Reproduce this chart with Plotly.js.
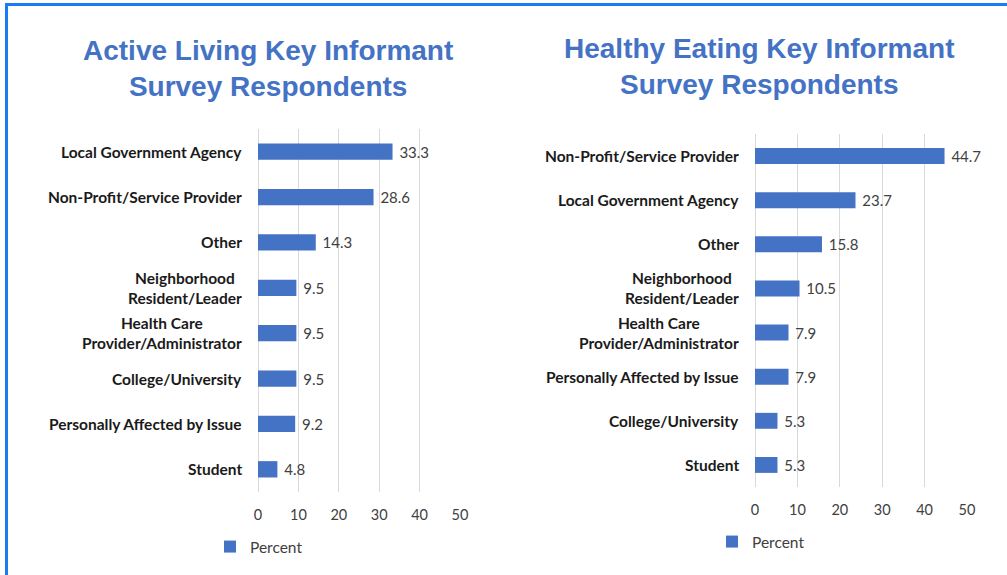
<!DOCTYPE html>
<html>
<head>
<meta charset="utf-8">
<script src="https://cdn.plot.ly/plotly-3.0.1.min.js"></script>
<style>
html,body{margin:0;padding:0;background:#fff;}
#chart{width:1007px;height:575px;}
</style>
</head>
<body>
<div id="chart"></div>
<script>
// ---- data ----
const activeCategories = ["Local Government Agency", "Non-Profit/Service Provider", "Other", "Neighborhood<br>Resident/Leader", "Health Care<br>Provider/Administrator", "College/University", "Personally Affected by Issue", "Student"];
const activeValues = [33.3, 28.6, 14.3, 9.5, 9.5, 9.5, 9.2, 4.8];
const eatingCategories = ["Non-Profit/Service Provider", "Local Government Agency", "Other", "Neighborhood<br>Resident/Leader", "Health Care<br>Provider/Administrator", "Personally Affected by Issue", "College/University", "Student"];
const eatingValues = [44.7, 23.7, 15.8, 10.5, 7.9, 7.9, 5.3, 5.3];
const tickValues = [0, 10, 20, 30, 40, 50];
const seriesName = "Percent";
const titleLeft = "Active Living Key Informant<br>Survey Respondents";
const titleRight = "Healthy Eating Key Informant<br>Survey Respondents";

// ---- layout helpers (pixel -> paper, margins are zero) ----
const W = 1007, H = 575;
const px = x => x / W;
const py = y => 1 - y / H;

const barColor = "#4472C4";
const FAM = "Lato, 'Open Sans', sans-serif";
const labelFont = {family: FAM, size: 15, color: "#404040"};

const traces = [
  {
    type: "bar", orientation: "h", name: seriesName,
    x: activeValues, y: activeCategories.map((c, i) => "a" + i),
    xaxis: "x", yaxis: "y",
    marker: {color: barColor, line: {width: 0}},
    text: activeValues.map(v => "\u00a0" + v.toFixed(1)), textposition: "outside",
    textfont: labelFont, cliponaxis: false, constraintext: "none",
    showlegend: true, legend: "legend", hoverinfo: "x"
  },
  {
    type: "bar", orientation: "h", name: seriesName,
    x: eatingValues, y: eatingCategories.map((c, i) => "b" + i),
    xaxis: "x2", yaxis: "y2",
    marker: {color: barColor, line: {width: 0}},
    text: eatingValues.map(v => "\u00a0" + v.toFixed(1)), textposition: "outside",
    textfont: labelFont, cliponaxis: false, constraintext: "none",
    showlegend: true, legend: "legend2", hoverinfo: "x"
  }
];

const xaxisBase = {
  range: [0, 50], tickvals: tickValues, ticktext: tickValues.map(String),
  showgrid: true, gridcolor: "#d9d9d9", gridwidth: 1,
  zeroline: true, zerolinecolor: "#d9d9d9", zerolinewidth: 1,
  showline: false, ticks: "", ticklabelstandoff: 12,
  tickfont: {family: FAM, size: 14.5, color: "#404040"},
  fixedrange: true
};
const yaxisBase = {
  type: "category", autorange: "reversed", showticklabels: false,
  showgrid: false, zeroline: false, showline: false, ticks: "", fixedrange: true
};

const catFont = {family: FAM, size: 15.5, color: "#1a1a1a"};
const catAnn = [];
activeCategories.forEach((c, i) => catAnn.push({
  xref: "paper", yref: "y", x: px(244), y: "a" + i, xanchor: "right", yanchor: "middle",
  text: "<b>" + c.replace("<br>", "</b><br><b>") + "</b>", align: "center", showarrow: false,
  font: catFont
}));
eatingCategories.forEach((c, i) => catAnn.push({
  xref: "paper", yref: "y2", x: px(741), y: "b" + i, xanchor: "right", yanchor: "middle",
  text: "<b>" + c.replace("<br>", "</b><br><b>") + "</b>", align: "center", showarrow: false,
  font: catFont
}));

const titleFont = {family: "'Liberation Sans', Arial, sans-serif", size: 28, color: "#4472C4"};
const titles = [
  {xref: "paper", yref: "paper", x: px(268), y: py(33), xanchor: "center", yanchor: "top",
   text: "<b>" + titleLeft.replace("<br>", "</b><br><b>") + "</b>", showarrow: false, font: titleFont, align: "center"},
  {xref: "paper", yref: "paper", x: px(759), y: py(31), xanchor: "center", yanchor: "top",
   text: "<b>" + titleRight.replace("<br>", "</b><br><b>") + "</b>", showarrow: false, font: titleFont, align: "center"}
];

const legendFont = {family: FAM, size: 15.5, color: "#404040"};

const layout = {
  width: W, height: H,
  margin: {l: 0, r: 0, t: 0, b: 0},
  paper_bgcolor: "#ffffff", plot_bgcolor: "#ffffff",
  bargap: 0.64,
  xaxis: Object.assign({}, xaxisBase, {domain: [px(258), px(460)], anchor: "y"}),
  yaxis: Object.assign({}, yaxisBase, {domain: [py(492), py(129)], anchor: "x"}),
  xaxis2: Object.assign({}, xaxisBase, {domain: [px(755), px(967)], anchor: "y2"}),
  yaxis2: Object.assign({}, yaxisBase, {domain: [py(487), py(134)], anchor: "x2"}),
  legend: {x: px(210), y: py(547), xanchor: "left", yanchor: "middle", font: legendFont,
           bgcolor: "rgba(0,0,0,0)", borderwidth: 0, itemwidth: 30},
  legend2: {x: px(712), y: py(542), xanchor: "left", yanchor: "middle", font: legendFont,
            bgcolor: "rgba(0,0,0,0)", borderwidth: 0, itemwidth: 30},
  annotations: titles.concat(catAnn),
  shapes: [
    {type: "line", xref: "paper", yref: "paper", x0: px(6.5), x1: px(6.5), y0: py(3), y1: py(575),
     line: {color: "#1a7cf2", width: 3}},
    {type: "line", xref: "paper", yref: "paper", x0: px(5), x1: px(1007), y0: py(4.5), y1: py(4.5),
     line: {color: "#1a7cf2", width: 3}}
  ]
};

Plotly.newPlot("chart", traces, layout, {displayModeBar: false, staticPlot: true});
</script>
</body>
</html>
